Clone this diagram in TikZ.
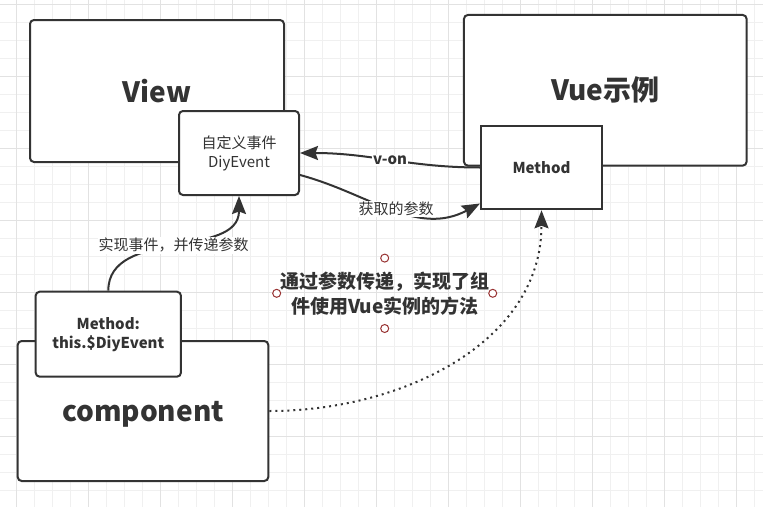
\documentclass[tikz,border=0pt]{standalone}
\usepackage{fontspec}
\setmainfont{Noto Sans CJK SC}
\usetikzlibrary{arrows.meta}
\definecolor{ink}{HTML}{333333}
\definecolor{gridminor}{HTML}{F0F0F0}
\definecolor{gridmajor}{HTML}{E2E2E2}
\definecolor{handlered}{HTML}{993333}
\begin{document}
\begin{tikzpicture}[x=1pt,y=1pt,
  box/.style={draw=ink,line width=2pt,rounded corners=4pt,fill=white,text=ink,align=center},
  sqbox/.style={draw=ink,line width=2pt,fill=white,text=ink,align=center},
  link/.style={draw=ink,line width=2pt,-{Stealth[length=18pt,width=14pt,inset=2.5pt]}},
  lbl/.style={fill=white,text=ink,inner sep=1pt,font=\fontsize{15}{18}\selectfont},
  handle/.style={draw=handlered,line width=1pt,fill=white}]
\useasboundingbox (0,0) rectangle (763,-506);
% grid
\begin{scope}
\clip (0,0) rectangle (763,-506);
\draw[gridminor,line width=1pt,shift={(-1.3,-4.3)},step=18] (-18,18) grid (790,-530);
\draw[gridmajor,line width=1pt,shift={(16.7,-4.3)},step=72] (-72,72) grid (800,-580);
\end{scope}
% boxes
\node[box,minimum width=254,minimum height=142,font=\fontsize{28}{32}\selectfont\bfseries]
(view) at (157,-91) {View};
\node[box,minimum width=120,minimum height=84,font=\fontsize{15}{19}\selectfont]
(diy) at (239,-153) {自定义事件\\DiyEvent};
\node[box,minimum width=282.7,minimum height=150.7,font=\fontsize{28}{32}\selectfont\bfseries]
(vue) at (605.3,-90.3) {Vue示例};
\node[sqbox,minimum width=121,minimum height=83.6,font=\fontsize{15}{19}\selectfont\bfseries]
(meth) at (541.5,-167.5) {Method};
\node[box,minimum width=250.6,minimum height=140,text height=21pt,text depth=0pt,
  font=\fontsize{28}{32}\selectfont\bfseries]
(comp) at (143,-411) {component};
\node[box,minimum width=145.3,minimum height=85,font=\fontsize{15}{19}\selectfont\bfseries]
(mdiy) at (108.3,-334.2) {Method:\\this.\$DiyEvent};
% note
\node[text=ink,align=center,minimum width=213.4,minimum height=70,
  font=\fontsize{19}{25}\selectfont\bfseries]
(note) at (384.7,-293.3) {通过参数传递，实现了组\\件使用Vue实例的方法};
\foreach \a in {north,south,east,west}
  \draw[handle] (note.\a) circle (4);
% links
\draw[link](meth.west) to[out=180,in=0]
  node[lbl,midway,font=\fontsize{15}{18}\selectfont\bfseries] {v-on} (diy.east);
\draw[link]([yshift=-22]diy.east) to[out=-15,in=208]
  node[lbl,midway,xshift=4] {获取的参数} ([yshift=-36]meth.west);
\draw[link](mdiy.north) to[out=90,in=-90]
  node[lbl,midway,yshift=-2] {实现事件，并传递参数} (diy.south);
\draw[link,dash pattern=on 2pt off 4pt](comp.east) to[out=0,in=-90] (meth.south);
\end{tikzpicture}
\end{document}
